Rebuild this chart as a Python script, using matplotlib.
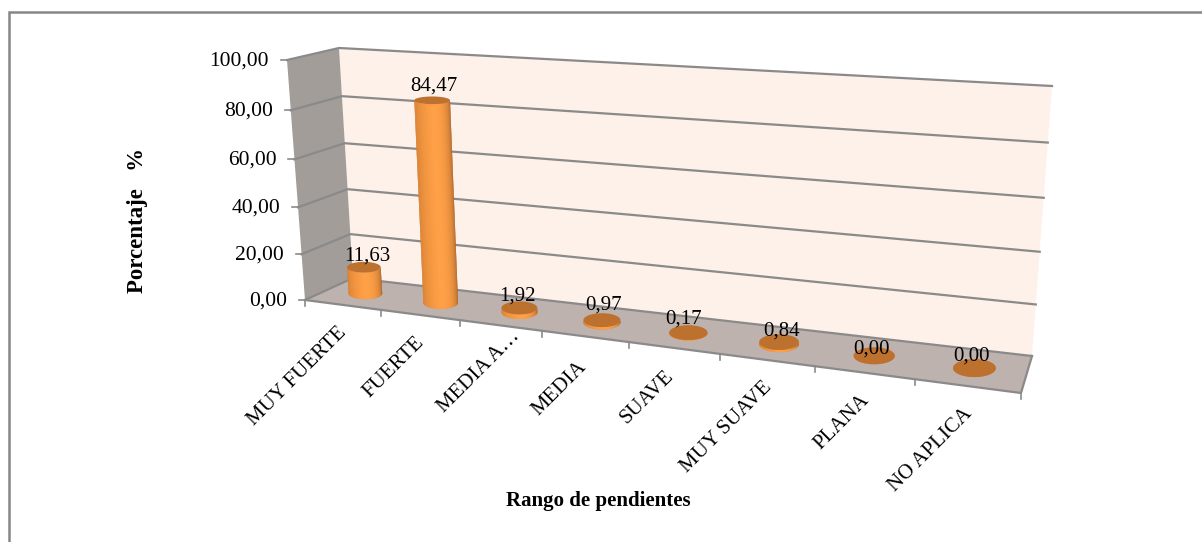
#!/usr/bin/env python
#
# Excel style 3D cylinder chart: slope ranges vs percentage

import numpy as np
import matplotlib
matplotlib.use('Agg')
import matplotlib.pyplot as plt
from matplotlib.patches import Polygon

categories = ['MUY FUERTE', 'FUERTE', 'MEDIA A…', 'MEDIA', 'SUAVE', 'MUY SUAVE', 'PLANA', 'NO APLICA']
values = [11.63, 84.47, 1.92, 0.97, 0.17, 0.84, 0.00, 0.00]
value_labels = ['11,63', '84,47', '1,92', '0,97', '0,17', '0,84', '0,00', '0,00']
y_ticks = [0, 20, 40, 60, 80, 100]
y_tick_labels = ['0,00', '20,00', '40,00', '60,00', '80,00', '100,00']

# pixel position of the box corners: (left/right, front/back, bottom/top)
FLB = np.array([305., 300.])
FLT = np.array([287., 60.])
BLB = np.array([353., 278.])
BLT = np.array([339., 48.])
FRB = np.array([1021., 393.])
FRT = np.array([1041., 108.])
BRB = np.array([1032., 356.])
BRT = np.array([1052., 86.])

K_X = 0.21  # perspective along the category axis
K_Y = 0.06  # perspective along the value axis

# nudges of the data labels, in pixels, from the top of each bar
label_dx = [3, 2, -2, 2, -5, 3, -3, -3]
label_dy = [-11, -14, -12, -15, -14, -11, -7, -12]
# nudges of the category labels
cat_dx = [0, 0, 15, -3, -5, 0, 0, 0]
cat_dy = [0, 0, -16, 3, 1, 0, 0, 0]


def project(cat, val, depth):
    """category position (0-8), value (0-100), depth (0 front, 1 back) -> pixels"""
    u = np.asarray(cat, dtype=float) / len(categories)
    v = np.asarray(val, dtype=float) / 100.0
    d = np.asarray(depth, dtype=float)
    fu = u / (1 + K_X * (1 - u))
    fv = v / (1 + K_Y * (1 - v))
    pts = 0
    for cu, cv, cd, c in [(1 - fu, 1 - fv, 1 - d, FLB), (1 - fu, fv, 1 - d, FLT),
                          (1 - fu, 1 - fv, d, BLB), (1 - fu, fv, d, BLT),
                          (fu, 1 - fv, 1 - d, FRB), (fu, fv, 1 - d, FRT),
                          (fu, 1 - fv, d, BRB), (fu, fv, d, BRT)]:
        pts = pts + np.multiply.outer(cu * cv * cd, c)
    return pts


def shade(t):
    # t goes 0..1 from left edge to right edge of the cylinder
    dark_l = np.array([0.80, 0.47, 0.18])
    mid = np.array([1.00, 0.63, 0.28])
    dark_r = np.array([0.62, 0.35, 0.14])
    if t < 0.5:
        return dark_l + (mid - dark_l) * (t / 0.5) ** 0.7
    return mid + (dark_r - mid) * ((t - 0.5) / 0.5) ** 2.2


def ellipse(i, val, ang):
    # flat ellipse around the bar axis at height val
    c = i + 0.5
    centre = project(c, val, 0.5)
    dx = project(c + 0.5, val, 0.5)[0] - project(c - 0.5, val, 0.5)[0]
    a = 0.16 * dx + 5
    b = 0.25 * (project(c, val, 0)[1] - project(c, val, 1)[1])
    return centre + np.column_stack([a * np.cos(ang), b * np.sin(ang)])


def draw_cylinder(ax, i, val):
    ang = np.linspace(np.pi, 0, 41)
    low = ellipse(i, 0, ang)
    high = ellipse(i, val, ang)
    full = np.linspace(0, 2 * np.pi, 80)
    # base is a bit lighter than the cap, shows on the flat bars
    ax.add_patch(Polygon(ellipse(i, 0, full), closed=True, facecolor='#E08A3C', edgecolor='none', zorder=2.9))
    # strips overlap the next one a little, the next paints over it, so no seams
    for j in range(len(ang) - 1):
        poly = np.vstack([low[j:j + 3], high[j:j + 3][::-1]])
        ax.add_patch(Polygon(poly, closed=True, facecolor=shade((j + 0.5) / (len(ang) - 1)),
                             edgecolor='none', zorder=3))
    ax.add_patch(Polygon(ellipse(i, val, full), closed=True, facecolor='#BC712E', edgecolor='none', zorder=3.1))


plt.rcParams['font.family'] = ['Liberation Serif', 'DejaVu Serif']
fig = plt.figure(figsize=(12.02, 5.42), dpi=100)
ax = fig.add_axes([0, 0, 1, 1])
ax.set_xlim(0, 1202)
ax.set_ylim(542, 0)
ax.axis('off')

# chart frame, only top and left sides are inside the picture
ax.plot([9, 9, 1202], [542, 12, 12], color='#868686', lw=1.8, zorder=0, solid_joinstyle='miter')

# walls and floor
n_cat = len(categories)
ax.add_patch(Polygon([BLB, BLT, BRT, BRB], closed=True, facecolor='#FEF1EA', edgecolor='none', zorder=1))
ax.add_patch(Polygon([FLB, FLT, BLT, BLB], closed=True, facecolor='#A29D99', edgecolor='none', zorder=1))
ax.add_patch(Polygon([FLB, BLB, BRB, FRB], closed=True, facecolor='#BDB2AE', edgecolor='none', zorder=1))

# gridlines over left wall and back wall
grid_col = '#8A8A8A'
for t, lab in zip(y_ticks, y_tick_labels):
    pts = np.vstack([project(0, t, 0), project(0, t, 1), project(n_cat, t, 1)])
    ax.plot(pts[:, 0], pts[:, 1], color=grid_col, lw=1.6, zorder=1.5, solid_joinstyle='miter')
    p = project(0, t, 0)
    ax.plot([p[0] - 6, p[0]], [p[1], p[1]], color=grid_col, lw=1.2, zorder=1.5)
    ax.text(p[0] - 18, p[1] + 1, lab, ha='right', va='center', fontsize=15.5)

# floor front edge, ticks and category labels
pts = np.vstack([project(0, 0, 0), project(n_cat, 0, 0), project(n_cat, 0, 1)])
ax.plot(pts[:, 0], pts[:, 1], color=grid_col, lw=1.6, zorder=1.6)
for i in range(n_cat + 1):
    p = project(i, 0, 0)
    ax.plot([p[0], p[0]], [p[1], p[1] + 6], color=grid_col, lw=1.2, zorder=1.6)
for i, name in enumerate(categories):
    p = project(i + 0.5, 0, 0)
    ax.text(p[0] - 5 + cat_dx[i], p[1] + 18 + cat_dy[i], name, rotation=45, rotation_mode='anchor',
            ha='right', va='top', fontsize=15)

# bars
for i, val in enumerate(values):
    draw_cylinder(ax, i, val)

# data labels
for i, (val, lab) in enumerate(zip(values, value_labels)):
    p = project(i + 0.5, val, 0.5)
    ax.text(p[0] + label_dx[i], p[1] + label_dy[i], lab, ha='center', va='center', fontsize=15, zorder=4)

ax.text(598, 501, 'Rango de pendientes', ha='center', va='center', fontsize=15, fontweight='bold')
ax.text(137, 220.5, 'Porcentaje   %', rotation=90, ha='center', va='center', fontsize=16.5, fontweight='bold')

fig.savefig('out.png', dpi=100)
